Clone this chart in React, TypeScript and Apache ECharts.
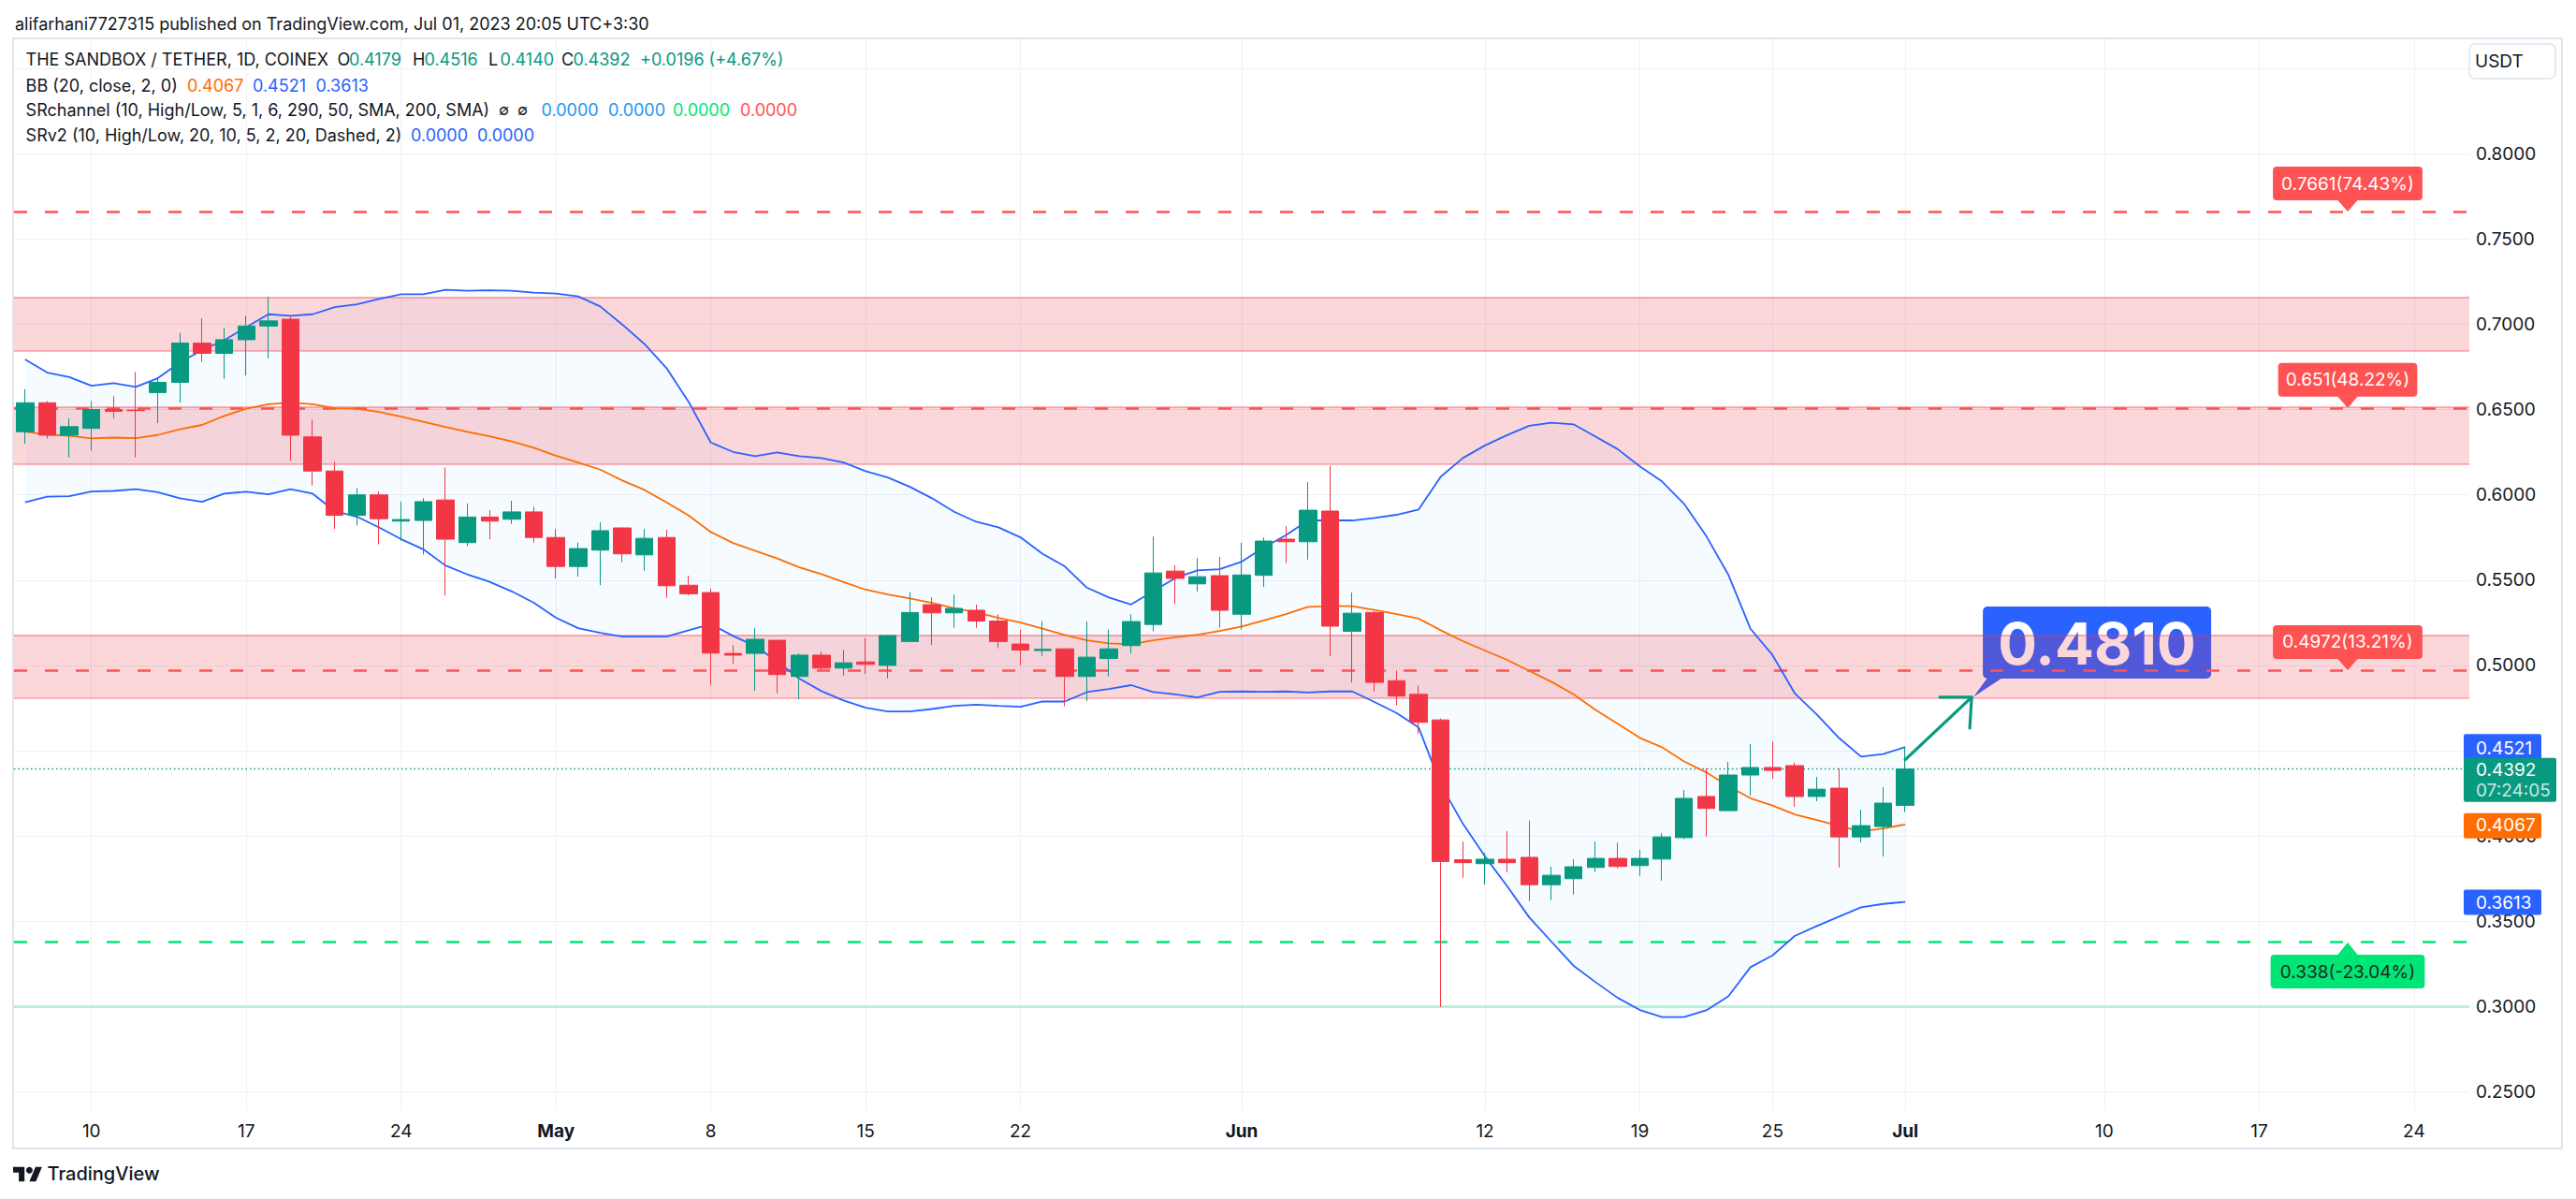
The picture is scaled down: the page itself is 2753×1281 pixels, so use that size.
import React, { useEffect, useRef } from "react";
import * as echarts from "echarts";

// ---------------- data ----------------
const START_DATE = "2023-04-07";
const DAY_COUNT = 111; // Apr 7 .. Jul 26 (chart extends past last candle)

// [open, high, low, close]
const aprilCandles = [
  [0.637, 0.662, 0.63, 0.654], [0.654, 0.655, 0.633, 0.635], [0.635, 0.645, 0.622, 0.64],
  [0.639, 0.655, 0.626, 0.65], [0.65, 0.658, 0.645, 0.649], [0.6497, 0.672, 0.622, 0.6494],
  [0.66, 0.669, 0.642, 0.666], [0.666, 0.695, 0.654, 0.689], [0.689, 0.7035, 0.678, 0.683],
  [0.683, 0.698, 0.668, 0.691], [0.691, 0.705, 0.67, 0.699], [0.699, 0.716, 0.68, 0.702],
  [0.703, 0.7045, 0.62, 0.635], [0.634, 0.644, 0.6055, 0.614], [0.614, 0.6195, 0.58, 0.588],
  [0.588, 0.604, 0.582, 0.6], [0.6, 0.602, 0.571, 0.586], [0.5846, 0.596, 0.573, 0.5855],
  [0.585, 0.598, 0.565, 0.596], [0.597, 0.616, 0.541, 0.574], [0.572, 0.595, 0.57, 0.587],
  [0.587, 0.591, 0.574, 0.5846], [0.5857, 0.5965, 0.583, 0.59], [0.59, 0.593, 0.572, 0.575],
];
const mayCandles = [
  [0.575, 0.58, 0.551, 0.558], [0.558, 0.572, 0.552, 0.5685], [0.5676, 0.584, 0.547, 0.579],
  [0.5806, 0.581, 0.5605, 0.5654], [0.5648, 0.58, 0.5555, 0.5745], [0.575, 0.5795, 0.5396, 0.5467],
  [0.547, 0.5526, 0.541, 0.542], [0.5427, 0.545, 0.4885, 0.5072], [0.507, 0.512, 0.5006, 0.506],
  [0.507, 0.522, 0.485, 0.5153], [0.5147, 0.515, 0.4836, 0.4946], [0.4935, 0.507, 0.48, 0.506],
  [0.506, 0.508, 0.497, 0.4984], [0.4984, 0.509, 0.494, 0.5015], [0.502, 0.516, 0.495, 0.5006],
  [0.5, 0.518, 0.4924, 0.5175], [0.514, 0.543, 0.5135, 0.531], [0.5356, 0.54, 0.512, 0.5308],
  [0.5308, 0.5416, 0.522, 0.5334], [0.5323, 0.5356, 0.522, 0.526], [0.526, 0.53, 0.51, 0.514],
  [0.5125, 0.521, 0.5, 0.509], [0.5087, 0.526, 0.5056, 0.5094], [0.5097, 0.51, 0.476, 0.4935],
  [0.4935, 0.5257, 0.479, 0.5048], [0.504, 0.521, 0.4935, 0.5097], [0.5116, 0.53, 0.507, 0.5257],
  [0.524, 0.5756, 0.52, 0.5542], [0.5553, 0.5586, 0.536, 0.551], [0.5478, 0.563, 0.5434, 0.552],
  [0.5526, 0.5636, 0.522, 0.5323],
];
const juneCandles = [
  [0.53, 0.572, 0.521, 0.553], [0.5528, 0.575, 0.546, 0.5729], [0.574, 0.5817, 0.56, 0.5725],
  [0.5725, 0.6075, 0.562, 0.591], [0.5905, 0.617, 0.5056, 0.523], [0.52, 0.5427, 0.49, 0.5306],
  [0.531, 0.532, 0.4847, 0.49], [0.491, 0.497, 0.4765, 0.482], [0.483, 0.488, 0.46, 0.4666],
  [0.468, 0.4688, 0.2997, 0.385], [0.386, 0.3967, 0.3755, 0.3843], [0.3837, 0.39, 0.3714, 0.3863],
  [0.3863, 0.4027, 0.3786, 0.3843], [0.3874, 0.409, 0.3617, 0.3714], [0.3714, 0.3819, 0.3623, 0.3769],
  [0.3749, 0.3863, 0.3656, 0.3819], [0.3815, 0.3967, 0.3788, 0.3868], [0.3868, 0.396, 0.381, 0.3821],
  [0.3826, 0.3918, 0.3766, 0.3868], [0.3864, 0.4016, 0.3738, 0.3994], [0.399, 0.427, 0.398, 0.422],
  [0.4231, 0.4395, 0.3996, 0.4161], [0.4148, 0.4434, 0.4145, 0.4357], [0.4357, 0.4538, 0.4236, 0.4401],
  [0.4401, 0.4554, 0.4335, 0.4384], [0.4412, 0.443, 0.417, 0.4231], [0.4231, 0.4346, 0.4203, 0.4274],
  [0.428, 0.4395, 0.3815, 0.3994], [0.3994, 0.4154, 0.3962, 0.406], [0.4055, 0.4285, 0.3879, 0.4192],
];
const julyCandles = [[0.4179, 0.4516, 0.414, 0.4392]];

const bbUpper = [
  0.6794, 0.6717, 0.6691, 0.664, 0.6655, 0.6633, 0.6684, 0.6776, 0.6849, 0.6907, 0.6984, 0.7059,
  0.705, 0.7059, 0.7101, 0.7118, 0.7149, 0.7176, 0.7176, 0.7202, 0.7197, 0.72, 0.7197, 0.7186,
  0.718, 0.7164, 0.7105, 0.6999, 0.6885, 0.6743, 0.6545, 0.6307, 0.6252, 0.6227, 0.6249, 0.6227,
  0.6216, 0.619, 0.6139, 0.6102, 0.6047, 0.598, 0.5901, 0.5842, 0.581, 0.5751, 0.5654, 0.5581,
  0.5456, 0.5398, 0.5357, 0.5434, 0.5513, 0.5557, 0.5564,
  0.5608, 0.5691, 0.5764, 0.585, 0.585, 0.585, 0.5864, 0.5883, 0.5914, 0.6107, 0.6216, 0.629,
  0.635, 0.6405, 0.6423, 0.6414, 0.6341, 0.6268, 0.6167, 0.6079, 0.5947, 0.5759, 0.5532, 0.5215,
  0.506, 0.4837, 0.4712, 0.4575, 0.4465, 0.448,
  0.4521,
];
const bbMiddle = [
  0.6371, 0.6353, 0.6346, 0.6331, 0.6336, 0.6333, 0.6351, 0.6384, 0.641, 0.6463, 0.6505, 0.6532,
  0.6541, 0.6532, 0.6508, 0.6505, 0.6486, 0.6459, 0.6428, 0.6399, 0.6369, 0.6344, 0.6313, 0.6276,
  0.623, 0.619, 0.6148, 0.6084, 0.6029, 0.5956, 0.5879, 0.5782, 0.5718, 0.5672, 0.5627, 0.5575,
  0.5535, 0.5489, 0.5444, 0.5416, 0.5392, 0.5367, 0.5335, 0.5312, 0.5279, 0.5251, 0.5215, 0.5178,
  0.5147, 0.5129, 0.5123, 0.5147, 0.5165, 0.518, 0.5202,
  0.5228, 0.5264, 0.5301, 0.5343, 0.5347, 0.5347, 0.5325, 0.5301, 0.5274, 0.5206, 0.5142, 0.5087,
  0.5032, 0.4968, 0.4904, 0.4831, 0.4739, 0.4657, 0.4575, 0.452, 0.4437, 0.4373, 0.4291, 0.4221,
  0.4178, 0.4126, 0.4093, 0.4059, 0.4026, 0.4044,
  0.4067,
];
const bbLower = [
  0.5956, 0.5989, 0.5992, 0.602, 0.6023, 0.6033, 0.6016, 0.598, 0.5959, 0.6007, 0.6018, 0.6003,
  0.6033, 0.6007, 0.5905, 0.5872, 0.5809, 0.574, 0.5681, 0.5586, 0.5533, 0.549, 0.5434, 0.5367,
  0.5279, 0.5218, 0.5191, 0.5169, 0.5169, 0.5169, 0.5206, 0.5242, 0.5173, 0.5114, 0.5023, 0.4922,
  0.4849, 0.4794, 0.4752, 0.473, 0.473, 0.4744, 0.4763, 0.477, 0.4763, 0.4757, 0.4788, 0.4788,
  0.4843, 0.4862, 0.4884, 0.4843, 0.483, 0.4812, 0.4845,
  0.4847, 0.4845, 0.4847, 0.4841, 0.4847, 0.4847, 0.4785, 0.4721, 0.4636, 0.43, 0.4071, 0.3879,
  0.3705, 0.3522, 0.338, 0.3239, 0.3142, 0.305, 0.2979, 0.2937, 0.2937, 0.2977, 0.3059, 0.323,
  0.3299, 0.3413, 0.3471, 0.3526, 0.3581, 0.3601,
  0.3613,
];

// x-axis ticks (category index -> text)
const tickIndex = [3, 10, 17, 24, 31, 38, 45, 55, 66, 73, 79, 85, 94, 101, 108];
const tickText = ["10", "17", "24", "May", "8", "15", "22", "Jun", "12", "19", "25", "Jul", "10", "17", "24"];
const monthNames = ["May", "Jun", "Jul"];
const yGridValues = [0.25, 0.3, 0.35, 0.4, 0.45, 0.5, 0.55, 0.6, 0.65, 0.7, 0.75, 0.8, 0.85];

// support / resistance
const resistanceLevels = [0.7661, 0.651, 0.4972];
const resistanceTexts = ["0.7661(74.43%)", "0.651(48.22%)", "0.4972(13.21%)"];
const supportLevel = 0.338;
const supportText = "0.338(-23.04%)";
const lowLine = 0.3;
const zones = [
  [0.716, 0.6844],
  [0.6515, 0.618],
  [0.5179, 0.4809],
];
const lastPrice = 0.4392;
const countdown = "07:24:05";
const targetValue = 0.481;
const targetText = "0.4810";
const arrowFrom = [85, 0.4447];
const arrowTo = [88, 0.4813];
const levelLabelIndex = 105;

const headerText = "alifarhani7727315 published on TradingView.com, Jul 01, 2023 20:05 UTC+3:30";
const symbolText = "THE SANDBOX / TETHER, 1D, COINEX";
const ohlcValues = ["0.4179", "0.4516", "0.4140", "0.4392"];
const changeText = "+0.0196 (+4.67%)";
const bbText = "BB (20, close, 2, 0)";
const bbValues = ["0.4067", "0.4521", "0.3613"];
const srText = "SRchannel (10, High/Low, 5, 1, 6, 290, 50, SMA, 200, SMA)";
const srValues = ["0.0000", "0.0000", "0.0000", "0.0000"];
const srv2Text = "SRv2 (10, High/Low, 20, 10, 5, 2, 20, Dashed, 2)";
const srv2Values = ["0.0000", "0.0000"];

// ---------------- helpers ----------------
const W = 2753;
const H = 1281;
const FONT = "Inter, 'Noto Sans', sans-serif";
const UP = "#089981";
const DOWN = "#f23645";
const DARK = "#131722";

function buildDates(): string[] {
  const out: string[] = [];
  const d = new Date(START_DATE + "T00:00:00Z");
  for (let i = 0; i < DAY_COUNT; i++) {
    out.push(d.toISOString().slice(0, 10));
    d.setUTCDate(d.getUTCDate() + 1);
  }
  return out;
}
const dates = buildDates();
const allCandles = [...aprilCandles, ...mayCandles, ...juneCandles, ...julyCandles];
const candleData = allCandles.map(([o, h, l, c]) => [o, c, l, h]);
const bbDiff = bbUpper.map((u, i) => +(u - bbLower[i]).toFixed(4));

function txt(x: number, y: number, text: string, fill: string, size: number, opts: any = {}) {
  const align = opts.align || "left";
  return {
    type: "text",
    x,
    y,
    z: opts.z ?? 60,
    silent: true,
    style: {
      text,
      fill,
      fontSize: size,
      fontFamily: FONT,
      fontWeight: opts.weight || "normal",
      align,
      textAlign: align,
      verticalAlign: "middle",
      textVerticalAlign: "middle",
    },
  };
}

function buildOption() {
  const gridLineStyle = { color: "#eef0f4", width: 1, type: "solid" };
  return {
    animation: false,
    backgroundColor: "#ffffff",
    textStyle: { fontFamily: FONT },
    grid: { left: 15, right: 114, top: 41, bottom: 95, containLabel: false, outerBoundsMode: "none" },
    xAxis: {
      type: "category",
      data: dates,
      boundaryGap: true,
      axisLine: { show: false },
      axisTick: { show: false },
      splitLine: { show: false },
      axisLabel: {
        interval: (index: number) => tickIndex.indexOf(index) >= 0,
        formatter: (_v: string, index: number) => {
          const k = tickIndex.indexOf(index);
          if (k < 0) return "";
          const t = tickText[k];
          return monthNames.indexOf(t) >= 0 ? `{b|${t}}` : t;
        },
        color: DARK,
        fontSize: 19,
        fontFamily: FONT,
        margin: 13,
        rich: { b: { fontWeight: "bold", fontSize: 19, color: DARK, fontFamily: FONT } },
      },
    },
    yAxis: {
      type: "value",
      position: "right",
      min: 0.2392,
      max: 0.8677,
      splitNumber: 12,
      minInterval: 0.05,
      maxInterval: 0.05,
      axisLine: { show: false },
      axisTick: { show: false },
      splitLine: { show: false },
      axisLabel: {
        margin: 7,
        color: DARK,
        fontSize: 19,
        fontFamily: FONT,
        showMinLabel: false,
        showMaxLabel: false,
        formatter: (v: number) =>
          v > 0.2499 && v < 0.8001 && Math.abs(v * 20 - Math.round(v * 20)) < 1e-6 ? v.toFixed(4) : "",
      },
    },
    series: [
      {
        name: "grid",
        type: "line",
        data: [],
        z: 0,
        silent: true,
        markLine: {
          silent: true,
          z: 0,
          precision: 8,
          symbol: ["none", "none"],
          label: { show: false },
          lineStyle: gridLineStyle,
          data: [
            ...yGridValues.map((v) => ({ yAxis: v })),
            ...tickIndex.map((i) => ({ xAxis: i })),
          ],
        },
      },
      {
        name: "bbBase",
        type: "line",
        data: bbLower,
        stack: "bb",
        symbol: "none",
        silent: true,
        z: 1,
        lineStyle: { opacity: 0 },
      },
      {
        name: "bbFill",
        type: "line",
        data: bbDiff,
        stack: "bb",
        symbol: "none",
        silent: true,
        z: 1,
        lineStyle: { opacity: 0 },
        areaStyle: { color: "rgba(33,150,243,0.055)", origin: "auto" },
      },
      {
        name: "zones",
        type: "line",
        data: [],
        z: 2,
        silent: true,
        markArea: {
          silent: true,
          z: 2,
          itemStyle: { color: "rgba(242,54,69,0.2)", borderWidth: 0 },
          data: zones.map(([a, b]) => [{ yAxis: a }, { yAxis: b }]),
        },
        markLine: {
          silent: true,
          z: 2,
          precision: 8,
          symbol: ["none", "none"],
          label: { show: false },
          lineStyle: { color: "rgba(242,54,69,0.33)", width: 2, type: "solid" },
          data: zones.flat().map((v) => ({ yAxis: v })),
        },
      },
      {
        name: "levels",
        type: "line",
        data: [],
        z: 3,
        silent: true,
        markLine: {
          silent: true,
          z: 3,
          precision: 8,
          symbol: ["none", "none"],
          label: { show: false },
          data: [
            ...resistanceLevels.map((v) => ({
              yAxis: v,
              lineStyle: { color: "#ff5252", width: 2.5, type: [14, 19] },
            })),
            { yAxis: supportLevel, lineStyle: { color: "#00e676", width: 2.5, type: [14, 19] } },
            { yAxis: lowLine, lineStyle: { color: "#b9f2d4", width: 3, type: "solid" } },
            { yAxis: lastPrice, lineStyle: { color: UP, width: 1.3, type: [1.5, 3] } },
          ],
        },
      },
      {
        name: "BB Upper",
        type: "line",
        data: bbUpper,
        symbol: "none",
        silent: true,
        z: 4,
        lineStyle: { color: "#2962ff", width: 1.8 },
      },
      {
        name: "BB Lower",
        type: "line",
        data: bbLower,
        symbol: "none",
        silent: true,
        z: 4,
        lineStyle: { color: "#2962ff", width: 1.8 },
      },
      {
        name: "BB Basis",
        type: "line",
        data: bbMiddle,
        symbol: "none",
        silent: true,
        z: 4,
        lineStyle: { color: "#ff6d00", width: 1.8 },
      },
      {
        name: "SAND/USDT",
        type: "candlestick",
        data: candleData,
        z: 5,
        barWidth: "80%",
        itemStyle: {
          color: UP,
          color0: DOWN,
          borderColor: UP,
          borderColor0: DOWN,
          borderWidth: 1,
        },
      },
    ],
  };
}

function buildGraphic(p: (i: number, v: number) => number[]) {
  const els: any[] = [];
  // frame
  els.push({
    type: "rect",
    z: 50,
    silent: true,
    shape: { x: 14, y: 41, width: 2724, height: 1186 },
    style: { fill: "none", stroke: "#e0e3eb", lineWidth: 2 },
  });
  // header
  els.push(txt(16, 25, headerText, DARK, 18));
  // legend row 1
  const r1 = 63;
  els.push(txt(27.6, r1, symbolText, DARK, 18));
  const ohlcKeys = ["O", "H", "L", "C"];
  const keyX = [360.5, 441, 522, 600];
  ohlcKeys.forEach((k, i) => {
    els.push(txt(keyX[i], r1, k, DARK, 18));
    els.push(txt(keyX[i] + 12.5, r1, ohlcValues[i], UP, 18));
  });
  els.push(txt(684, r1, changeText, UP, 18));
  // row 2
  const r2 = 91;
  els.push(txt(27.6, r2, bbText, DARK, 18));
  const bbCols = ["#ff6d00", "#2962ff", "#2962ff"];
  const bbX = [200, 270, 337.5];
  bbValues.forEach((v, i) => els.push(txt(bbX[i], r2, v, bbCols[i], 18)));
  // row 3
  const r3 = 117;
  els.push(txt(27.6, r3, srText, DARK, 18));
  els.push(txt(533, r3, "∅", DARK, 16));
  els.push(txt(553, r3, "∅", DARK, 16));
  const srCols = ["#2196f3", "#2196f3", "#00e676", "#ff5252"];
  const srX = [578.6, 650, 719, 791];
  srValues.forEach((v, i) => els.push(txt(srX[i], r3, v, srCols[i], 18)));
  // row 4
  const r4 = 144;
  els.push(txt(27.6, r4, srv2Text, DARK, 18));
  const s2X = [439, 510];
  srv2Values.forEach((v, i) => els.push(txt(s2X[i], r4, v, "#2962ff", 18)));

  // USDT box
  els.push({
    type: "rect",
    z: 60,
    silent: true,
    shape: { x: 2639, y: 47, width: 92, height: 37, r: 6 },
    style: { fill: "#ffffff", stroke: "#e0e3eb", lineWidth: 1.5 },
  });
  els.push(txt(2645, 65.5, "USDT", DARK, 19, { z: 61 }));

  // resistance labels
  resistanceLevels.forEach((v, i) => {
    const [cx, py] = p(levelLabelIndex, v);
    const t = resistanceTexts[i];
    const w = t.length * 11.2 + 3;
    els.push({
      type: "rect",
      z: 70,
      silent: true,
      shape: { x: cx - w / 2, y: py - 48, width: w, height: 36, r: 4 },
      style: { fill: "#ff5252" },
    });
    els.push({
      type: "polygon",
      z: 70,
      silent: true,
      shape: { points: [[cx - 11, py - 12.5], [cx + 11, py - 12.5], [cx, py]] },
      style: { fill: "#ff5252" },
    });
    els.push(txt(cx, py - 30, t, "#ffffff", 19, { align: "center", z: 71 }));
  });
  // support label
  {
    const [cx, py] = p(levelLabelIndex, supportLevel);
    const w = supportText.length * 11.2 + 8;
    els.push({
      type: "rect",
      z: 70,
      silent: true,
      shape: { x: cx - w / 2, y: py + 14, width: w, height: 36, r: 4 },
      style: { fill: "#00e676" },
    });
    els.push({
      type: "polygon",
      z: 70,
      silent: true,
      shape: { points: [[cx - 11, py + 14.5], [cx + 11, py + 14.5], [cx, py + 1]] },
      style: { fill: "#00e676" },
    });
    els.push(txt(cx, py + 32, supportText, "#1b2a22", 19, { align: "center", z: 71 }));
  }

  // target arrow
  const A = p(arrowFrom[0], arrowFrom[1]);
  const B = p(arrowTo[0], arrowTo[1]);
  els.push({
    type: "polyline",
    z: 80,
    silent: true,
    shape: { points: [A, B] },
    style: { stroke: UP, lineWidth: 3.2, lineCap: "round", fill: null },
  });
  els.push({
    type: "polyline",
    z: 80,
    silent: true,
    shape: { points: [[B[0] - 34, B[1]], [B[0], B[1]], [B[0] - 2, B[1] + 33]] },
    style: { stroke: UP, lineWidth: 3.2, lineCap: "round", lineJoin: "round", fill: null },
  });
  // target label box (below the zones so the zone tints it)
  const T = p(arrowTo[0], targetValue);
  const bx = B[0] + 12;
  const by = B[1] - 97;
  els.push({
    type: "rect",
    z: 1,
    silent: true,
    shape: { x: bx, y: by, width: 244, height: 77, r: 5 },
    style: { fill: "#2962ff" },
  });
  els.push({
    type: "polygon",
    z: 1,
    silent: true,
    shape: { points: [[B[0] + 17, by + 76], [B[0] + 33, by + 76], [B[0] + 2, T[1] - 1]] },
    style: { fill: "#2962ff" },
  });
  els.push(txt(bx + 122, by + 40, targetText, "#ffffff", 62, { align: "center", weight: "bold", z: 1 }));

  // price-axis value tags
  const tag = (v: number, color: string, text: string, top: number, h: number, w: number) => {
    const py = p(0, v)[1];
    els.push({
      type: "rect",
      z: 90,
      silent: true,
      shape: { x: 2633, y: py + top, width: w, height: h, r: 2 },
      style: { fill: color },
    });
    els.push(txt(2646, py + 1, text, "#ffffff", 19, { z: 91 }));
    return py;
  };
  tag(Number(bbValues[1]), "#2962ff", bbValues[1], -14, 28, 83);
  const lp = tag(lastPrice, UP, ohlcValues[3], -12, 47, 99);
  els.push(txt(2646, lp + 23, countdown, "rgba(255,255,255,0.8)", 19, { z: 91 }));
  tag(Number(bbValues[0]), "#ff6d00", bbValues[0], -12, 27, 83);
  tag(Number(bbValues[2]), "#2962ff", bbValues[2], -13, 27, 83);

  // footer logo
  els.push({
    type: "tvlogo",
    z: 60,
    silent: true,
    x: 14,
    y: 1243.2,
    scaleX: 0.87,
    scaleY: 0.87,
    style: { fill: DARK },
  });
  els.push({
    type: "circle",
    z: 60,
    silent: true,
    shape: { cx: 14 + 20 * 0.87, cy: 1243.2 + 8 * 0.87, r: 4 * 0.87 },
    style: { fill: DARK },
  });
  els.push(txt(50.5, 1254, "TradingView", DARK, 20, { weight: 500 }));
  return els;
}

let shapeRegistered = false;
function registerLogo() {
  if (shapeRegistered) return;
  shapeRegistered = true;
  echarts.graphic.registerShape(
    "tvlogo",
    echarts.graphic.extendPath("M14 22H7V11H0V4h14v18zM28 22h-8l7.5-18h8L28 22z", {}) as any
  );
}

export default function App() {
  const ref = useRef<HTMLDivElement>(null);
  useEffect(() => {
    document.body.style.margin = "0";
    registerLogo();
    const el = ref.current!;
    const chart = echarts.init(el, null, { renderer: "svg" });
    chart.setOption(buildOption() as any);
    const p = (i: number, v: number) =>
      chart.convertToPixel({ xAxisIndex: 0, yAxisIndex: 0 }, [i, v]) as unknown as number[];
    chart.setOption({ graphic: { elements: buildGraphic(p) } } as any);
    return () => chart.dispose();
  }, []);
  return <div ref={ref} style={{ width: W, height: H, background: "#ffffff" }} />;
}
